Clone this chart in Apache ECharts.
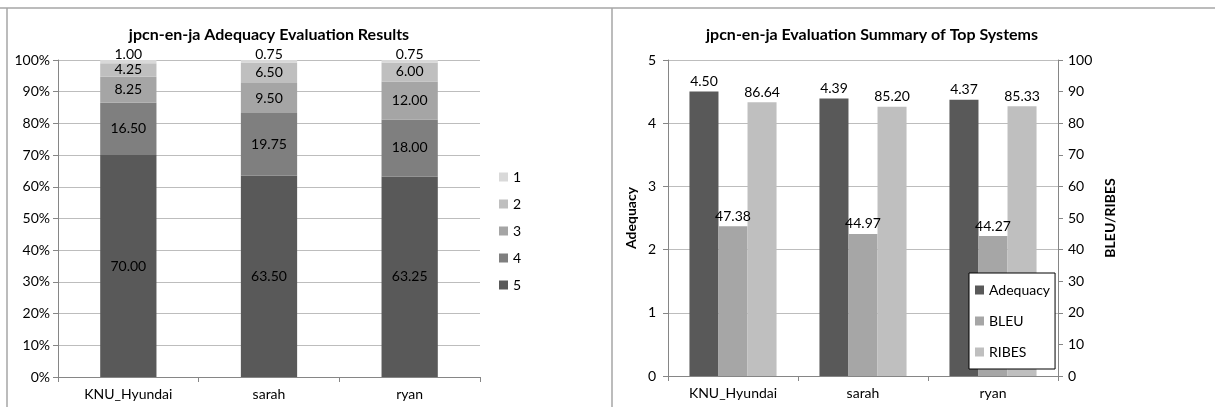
<!DOCTYPE html>
<html>
<head>
<meta charset="utf-8">
<script src="https://cdn.jsdelivr.net/npm/echarts@6/dist/echarts.min.js"></script>
<style>
html,body{margin:0;padding:0;background:#fff;}
#chart{width:1215px;height:407px;}
</style>
</head>
<body>
<div id="chart"></div>
<script>
const categories = ['KNU_Hyundai', 'sarah', 'ryan'];
const score5 = [70.00, 63.50, 63.25];
const score4 = [16.50, 19.75, 18.00];
const score3 = [8.25, 9.50, 12.00];
const score2 = [4.25, 6.50, 6.00];
const score1 = [1.00, 0.75, 0.75];
const adequacy = [4.50, 4.39, 4.37];
const bleu = [47.38, 44.97, 44.27];
const ribes = [86.64, 85.20, 85.33];
const leftTicksFormat = '{value}%';

const FONT = 'Lato';
const txt = '#000';
const axisGray = '#868686';
const gridGray = '#bdbdbd';

function stackSeries(name, data, color, pos) {
  return {
    name: name, type: 'bar', stack: 'adq', xAxisIndex: 0, yAxisIndex: 0,
    data: data, barCategoryGap: '60%',
    itemStyle: { color: color },
    label: { show: true, position: pos, distance: -1, color: txt, fontFamily: FONT, fontSize: 14,
      formatter: p => p.value.toFixed(2) }
  };
}
function barSeries(name, data, color, yIdx) {
  return {
    name: name, type: 'bar', xAxisIndex: 1, yAxisIndex: yIdx,
    data: data, barGap: '0%', barCategoryGap: '33%',
    itemStyle: { color: color },
    label: { show: true, position: 'top', distance: 3, color: txt, fontFamily: FONT, fontSize: 14,
      formatter: p => p.value.toFixed(2) }
  };
}

const chart = echarts.init(document.getElementById('chart'), null, { renderer: 'canvas' });
chart.setOption({
  animation: false,
  textStyle: { fontFamily: FONT },
  title: [
    { text: 'jpcn-en-ja Adequacy Evaluation Results', left: 264, top: 22, textAlign: 'center',
      textStyle: { fontFamily: FONT, fontSize: 16, fontWeight: 'bold', color: txt } },
    { text: 'jpcn-en-ja Evaluation Summary of Top Systems', left: 867, top: 22, textAlign: 'center',
      textStyle: { fontFamily: FONT, fontSize: 16, fontWeight: 'bold', color: txt } }
  ],
  legend: [
    { data: ['1', '2', '3', '4', '5'], orient: 'vertical', left: 494, top: 165,
      itemWidth: 9, itemHeight: 9, itemGap: 13, icon: 'rect',
      textStyle: { fontFamily: FONT, fontSize: 14, color: txt } },
    { data: ['Adequacy', 'BLEU', 'RIBES'], orient: 'vertical', left: 969, top: 273,
      itemWidth: 9, itemHeight: 9, itemGap: 17, icon: 'rect',
      padding: [10, 5, 10, 6], backgroundColor: '#fff', borderColor: '#000', borderWidth: 1,
      textStyle: { fontFamily: FONT, fontSize: 14, color: txt } }
  ],
  grid: [
    { left: 58, right: 735, top: 60, bottom: 30 },
    { left: 668, right: 157, top: 60, bottom: 31 }
  ],
  xAxis: [
    { type: 'category', gridIndex: 0, data: categories,
      axisLine: { lineStyle: { color: axisGray } },
      axisTick: { show: true, length: 5, lineStyle: { color: axisGray } },
      axisLabel: { color: txt, fontFamily: FONT, fontSize: 14, margin: 10 } },
    { type: 'category', gridIndex: 1, data: categories,
      axisLine: { lineStyle: { color: axisGray } },
      axisTick: { show: true, length: 5, lineStyle: { color: axisGray } },
      axisLabel: { color: txt, fontFamily: FONT, fontSize: 14, margin: 10 } }
  ],
  yAxis: [
    { type: 'value', gridIndex: 0, min: 0, max: 100, interval: 10,
      axisLine: { show: true, lineStyle: { color: axisGray } },
      axisTick: { show: true, length: 5, lineStyle: { color: axisGray } },
      splitLine: { lineStyle: { color: gridGray } },
      axisLabel: { formatter: leftTicksFormat, color: txt, fontFamily: FONT, fontSize: 14, margin: 8 } },
    { type: 'value', gridIndex: 1, min: 0, max: 5, interval: 1, position: 'left',
      name: 'Adequacy', nameLocation: 'middle', nameRotate: 90, nameGap: 30,
      nameTextStyle: { fontFamily: FONT, fontSize: 14, fontWeight: 'bold', color: txt },
      axisLine: { show: true, lineStyle: { color: axisGray } },
      axisTick: { show: true, length: 5, lineStyle: { color: axisGray } },
      splitLine: { lineStyle: { color: gridGray } },
      axisLabel: { color: txt, fontFamily: FONT, fontSize: 14, margin: 12 } },
    { type: 'value', gridIndex: 1, min: 0, max: 100, interval: 10, position: 'right',
      name: 'BLEU/RIBES', nameLocation: 'middle', nameRotate: 90, nameGap: 45,
      nameTextStyle: { fontFamily: FONT, fontSize: 14, fontWeight: 'bold', color: txt },
      axisLine: { show: true, lineStyle: { color: axisGray } },
      axisTick: { show: true, length: 5, lineStyle: { color: axisGray } },
      splitLine: { show: false },
      axisLabel: { color: txt, fontFamily: FONT, fontSize: 14, margin: 10 } }
  ],
  series: [
    stackSeries('5', score5, '#595959', 'inside'),
    stackSeries('4', score4, '#7f7f7f', 'inside'),
    stackSeries('3', score3, '#a5a5a5', 'inside'),
    stackSeries('2', score2, '#bfbfbf', 'inside'),
    stackSeries('1', score1, '#d9d9d9', 'top'),
    barSeries('Adequacy', adequacy, '#595959', 1),
    barSeries('BLEU', bleu, '#a6a6a6', 2),
    barSeries('RIBES', ribes, '#bfbfbf', 2)
  ],
  graphic: [
    { type: 'line', shape: { x1: 0, y1: 8, x2: 1215, y2: 8 }, style: { stroke: '#a6a6a6', lineWidth: 1.5 } },
    { type: 'line', shape: { x1: 7, y1: 8, x2: 7, y2: 407 }, style: { stroke: '#a6a6a6', lineWidth: 1.5 } },
    { type: 'line', shape: { x1: 612, y1: 8, x2: 612, y2: 407 }, style: { stroke: '#a6a6a6', lineWidth: 1.5 } }
  ]
});
</script>
</body>
</html>
